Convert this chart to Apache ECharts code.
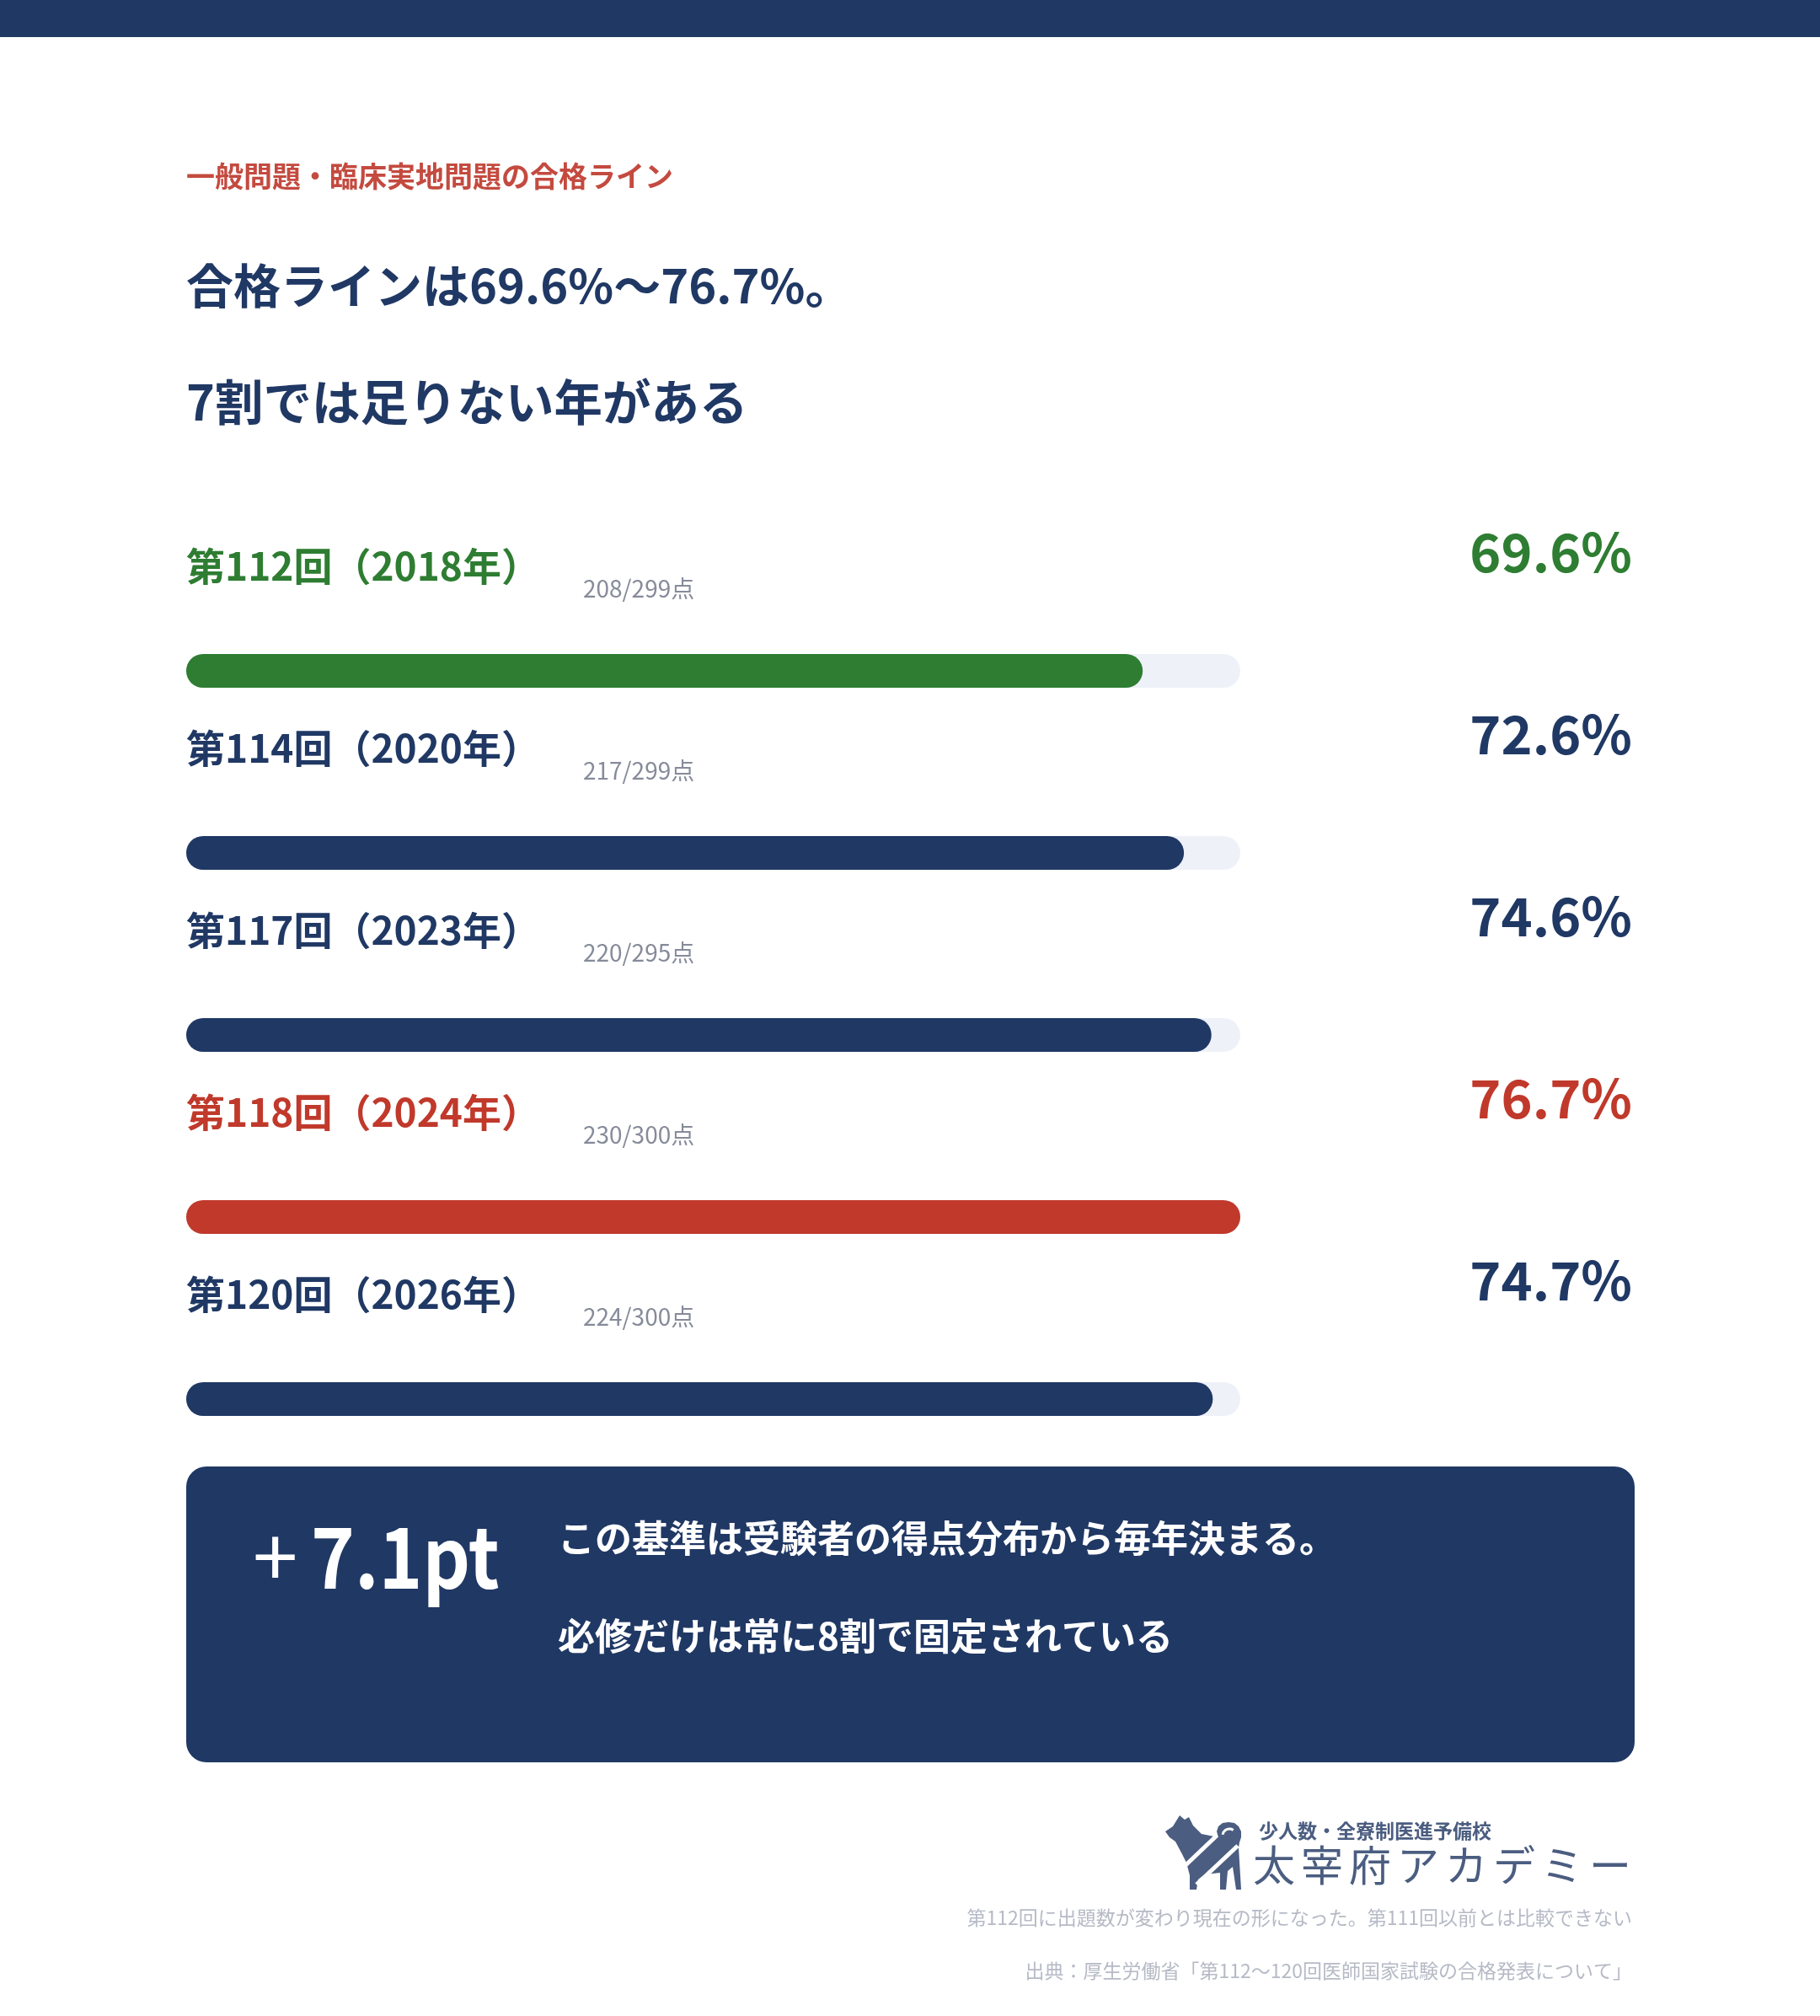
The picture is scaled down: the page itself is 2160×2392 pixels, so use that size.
<!DOCTYPE html>
<html>
<head>
<meta charset="utf-8">
<script src="https://cdn.jsdelivr.net/npm/echarts@6/dist/echarts.min.js"></script>
<style>
  html, body { margin: 0; padding: 0; background: #ffffff; }
  #chart { width: 2160px; height: 2392px; }
</style>
</head>
<body>
<div id="chart"></div>
<script>
// 合格ライン（一般問題・臨床実地問題）
const CATEGORIES = ['第112回（2018年）', '第114回（2020年）', '第117回（2023年）', '第118回（2024年）', '第120回（2026年）'];
const RATES = [69.6, 72.6, 74.6, 76.7, 74.7];
const PASS_POINTS = [208, 217, 220, 230, 224];
const TOTAL_POINTS = [299, 299, 295, 300, 300];

const NAVY = '#203864';
const GREEN = '#2e7d32';
const RED = '#c0392b';
const TRACK = '#eef1f8';
const FONT = '"Noto Sans CJK JP", "Noto Sans", sans-serif';

const MAX_RATE = Math.max(...RATES);
const MIN_RATE = Math.min(...RATES);

// 最低は緑、最高は赤、他は紺
function color_of(i) {
    if (RATES[i] === MIN_RATE) return GREEN;
    if (RATES[i] === MAX_RATE) return RED;
    return NAVY;
}

function txt(text, x, y, size, color, opts) {
    opts = opts || {};
    return {
        type: 'text',
        silent: true,
        x: x, y: y,
        scaleX: opts.scaleX || 1,
        style: {
            text: text, x: 0, y: 0,
            fill: color,
            font: (opts.weight || 'bold') + ' ' + size + 'px ' + FONT,
            textAlign: opts.align || 'left', align: opts.align || 'left',
            textVerticalAlign: 'middle', verticalAlign: 'middle'
        }
    };
}

function build_logo() {
    const dog = [[13, 33], [22, 27], [30, 14], [36, 19], [41, 16], [46, 26], [56, 36], [76, 40],
        [74, 33], [76, 27], [81, 23], [88, 22], [95, 23], [100, 27], [103, 33], [103, 40], [101, 46],
        [100, 52], [103, 102], [97, 102], [93, 75], [87, 80], [85, 102], [78, 102], [78, 82], [60, 84],
        [52, 90], [50, 102], [42, 102], [42, 85], [38, 70], [33, 60], [25, 45], [18, 40]];
    const logo_color = '#4b5d80';
    const els = [
        {type: 'polygon', x: 1370, y: 2140, silent: true, shape: {points: dog}, style: {fill: logo_color}},
        {type: 'line', x: 1370, y: 2140, silent: true, shape: {x1: 34, y1: 76, x2: 74, y2: 38}, style: {stroke: '#fff', lineWidth: 5}},
        {type: 'line', x: 1370, y: 2140, silent: true, shape: {x1: 50, y1: 96, x2: 99, y2: 50}, style: {stroke: '#fff', lineWidth: 5}},
        {type: 'arc', x: 1370, y: 2140, silent: true, shape: {cx: 89, cy: 38, r: 8, startAngle: Math.PI * 1.05, endAngle: Math.PI * 1.7}, style: {stroke: '#fff', lineWidth: 3, fill: null}},
        txt('少人数・全寮制医進予備校', 1494, 2172, 23, logo_color)
    ];
    const name = '太宰府アカデミー';
    for (let i = 0; i < name.length; i++) {
        els.push(txt(name[i], 1487 + i * 57, 2213, 50, logo_color, {weight: 'normal'}));
    }
    return els;
}

const chart = echarts.init(document.getElementById('chart'), null, {renderer: 'canvas'});

const option = {
    backgroundColor: '#ffffff',
    animation: false,
    grid: {left: 221, right: 688, top: 688, height: 1080},
    xAxis: {type: 'value', min: 0, max: MAX_RATE, show: false},
    yAxis: {type: 'category', data: CATEGORIES, inverse: true, show: false},
    series: [
        {
            // トラック + 回次ラベル
            type: 'bar', name: 'track', barWidth: 40, barGap: '-100%', silent: true,
            itemStyle: {color: TRACK, borderRadius: 20},
            data: RATES.map((v, i) => ({value: MAX_RATE, label: {color: color_of(i)}})),
            label: {
                show: true, position: [0, -104], align: 'left', verticalAlign: 'middle',
                fontFamily: FONT, fontWeight: 'bold', fontSize: 46,
                formatter: p => CATEGORIES[p.dataIndex]
            }
        },
        {
            // 得点ラベル
            type: 'bar', name: 'score', barWidth: 40, barGap: '-100%', silent: true,
            itemStyle: {color: 'rgba(0,0,0,0)'},
            data: RATES.map(() => MAX_RATE),
            label: {
                show: true, position: [471, -78], align: 'left', verticalAlign: 'middle',
                fontFamily: FONT, fontSize: 28, color: '#868b9a',
                formatter: p => PASS_POINTS[p.dataIndex] + '/' + TOTAL_POINTS[p.dataIndex] + '点'
            }
        },
        {
            type: 'bar', name: 'rate', barWidth: 40, barGap: '-100%', silent: true,
            data: RATES.map((v, i) => ({value: v, itemStyle: {color: color_of(i)}, label: {color: color_of(i)}})),
            itemStyle: {borderRadius: 20},
            label: {
                show: true, position: [1716, -121], align: 'right', verticalAlign: 'middle',
                fontFamily: FONT, fontWeight: 'bold', fontSize: 63,
                formatter: p => p.value.toFixed(1) + '%'
            }
        }
    ],
    graphic: [
        {type: 'rect', silent: true, shape: {x: 0, y: 0, width: 2160, height: 44}, style: {fill: NAVY}},
        txt('一般問題・臨床実地問題の合格ライン', 221, 209, 34, '#c44a3f'),
        txt('合格ラインは69.6%～76.7%。', 221, 339, 56, NAVY),
        txt('7割では足りない年がある', 221, 477, 57.5, NAVY),
        {type: 'rect', silent: true, shape: {x: 221, y: 1740, width: 1719, height: 351, r: 24}, style: {fill: NAVY}},
        txt('+', 300, 1847, 96, '#ffffff', {weight: 'normal'}),
        txt('7.1pt', 369, 1847, 100, '#ffffff', {scaleX: 0.88}),
        txt('この基準は受験者の得点分布から毎年決まる。', 662, 1825, 44, '#ffffff'),
        txt('必修だけは常に8割で固定されている', 662, 1941, 44, '#ffffff'),
        ...build_logo(),
        txt('第112回に出題数が変わり現在の形になった。第111回以前とは比較できない', 1937, 2275, 23, '#b6bac6', {weight: 'normal', align: 'right'}),
        txt('出典：厚生労働省「第112～120回医師国家試験の合格発表について」', 1937, 2338, 23, '#b6bac6', {weight: 'normal', align: 'right'})
    ]
};

chart.setOption(option);
</script>
</body>
</html>
